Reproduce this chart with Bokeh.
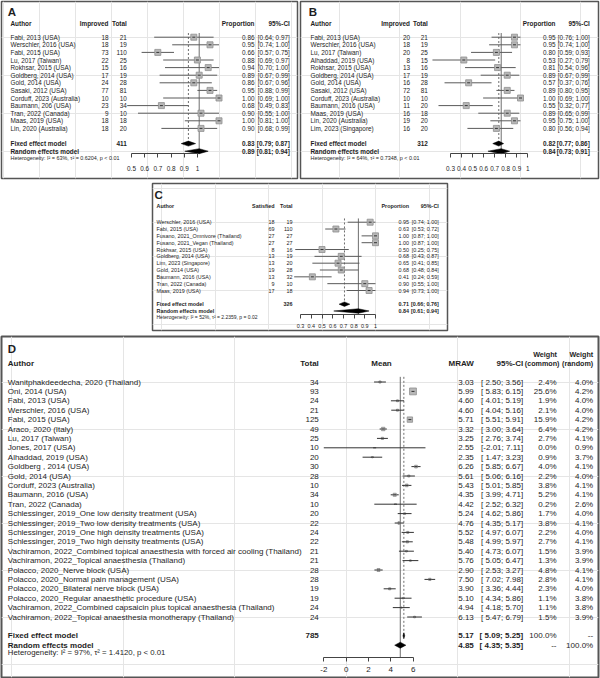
import math
from bokeh.plotting import figure
from bokeh.models import Range1d, LinearAxis, FixedTicker, Spacer, NumeralTickFormatter
from bokeh.layouts import column, row
from bokeh.core.properties import value
from bokeh.embed import file_html
from bokeh.resources import INLINE

# ===================== DATA =====================
# Panel A
a_study = ["Fabi, 2013 (USA)", "Werschler, 2016 (USA)", "Fabi, 2015 (USA)", "Lu, 2017 (Taiwan)",
           "Rokhsar, 2015 (USA)", "Goldberg, 2014 (USA)", "Gold, 2014 (USA)", "Sasaki, 2012 (USA)",
           "Corduff, 2023 (Australia)", "Baumann,  206 (USA)", "Tran, 2022 (Canada)", "Maas, 2019 (USA)",
           "Lin, 2020 (Australia)"]
a_events = [18, 18, 73, 22, 15, 17, 24, 77, 10, 23, 9, 18, 18]
a_total = [21, 19, 110, 25, 16, 19, 28, 81, 10, 34, 10, 18, 20]
a_prop = [0.86, 0.95, 0.66, 0.88, 0.94, 0.89, 0.86, 0.95, 1.00, 0.68, 0.90, 1.00, 0.90]
a_lo = [0.64, 0.74, 0.57, 0.69, 0.70, 0.67, 0.67, 0.88, 0.69, 0.49, 0.55, 0.81, 0.68]
a_hi = [0.97, 1.00, 0.75, 0.97, 1.00, 0.99, 0.96, 0.99, 1.00, 0.83, 1.00, 1.00, 0.99]
a_fixed = [0.83, 0.79, 0.87]
a_random = [0.89, 0.81, 0.94]
a_n = 411
a_het = "Heterogeneity: I² = 63%, τ² = 0.6204, p < 0.01"
a_ticks = [0.5, 0.6, 0.7, 0.8, 0.9, 1.0]

# Panel B
b_study = ["Fabi, 2013 (USA)", "Werschler, 2016 (USA)", "Lu, 2017 (Taiwan)", "Alhaddad, 2019 (USA)",
           "Rokhsar, 2015 (USA)", "Goldberg, 2014 (USA)", "Gold, 2014 (USA)", "Sasaki, 2012 (USA)",
           "Corduff, 2023 (Australia)", "Baumann, 2016 (USA)", "Maas, 2019 (USA)", "Lin, 2020 (Australia)",
           "Lim, 2023 (Singapore)"]
b_events = [20, 18, 20, 8, 13, 17, 16, 72, 10, 11, 16, 19, 16]
b_total = [21, 19, 25, 15, 16, 19, 28, 81, 10, 20, 18, 20, 20]
b_prop = [0.95, 0.95, 0.80, 0.53, 0.81, 0.89, 0.57, 0.89, 1.00, 0.55, 0.89, 0.95, 0.80]
b_lo = [0.76, 0.74, 0.59, 0.27, 0.54, 0.67, 0.37, 0.80, 0.69, 0.32, 0.65, 0.75, 0.56]
b_hi = [1.00, 1.00, 0.93, 0.79, 0.96, 0.99, 0.76, 0.95, 1.00, 0.77, 0.99, 1.00, 0.94]
b_fixed = [0.82, 0.77, 0.86]
b_random = [0.84, 0.73, 0.91]
b_n = 312
b_het = "Heterogeneity: I² = 64%, τ² = 0.7348, p < 0.01"
b_ticks = [0.3, 0.4, 0.5, 0.6, 0.7, 0.8, 0.9, 1.0]

# Panel C
c_study = ["Werschler, 2016 (USA)", "Fabi, 2015 (USA)", "Fusano, 2021_Omnivore (Thailand)",
           "Fusano, 2021_Vegan (Thailand)", "Rokhsar, 2015 (USA)", "Goldberg, 2014 (USA)",
           "Lim, 2023 (Singapore)", "Gold, 2014 (USA)", "Baumann, 2016 (USA)", "Tran, 2022 (Canada)",
           "Maas, 2019 (USA)"]
c_events = [18, 69, 27, 27, 8, 13, 13, 19, 13, 9, 17]
c_total = [19, 110, 27, 27, 16, 19, 20, 28, 32, 10, 18]
c_prop = [0.95, 0.63, 1.00, 1.00, 0.50, 0.68, 0.65, 0.68, 0.41, 0.90, 0.94]
c_lo = [0.74, 0.53, 0.87, 0.87, 0.25, 0.43, 0.41, 0.48, 0.24, 0.55, 0.73]
c_hi = [1.00, 0.72, 1.00, 1.00, 0.75, 0.87, 0.85, 0.84, 0.59, 1.00, 1.00]
c_fixed = [0.71, 0.66, 0.76]
c_random = [0.84, 0.61, 0.94]
c_n = 326
c_het = "Heterogeneity: I² = 52%, τ² = 2.2359, p = 0.02"
c_ticks = [0.3, 0.4, 0.5, 0.6, 0.7, 0.8, 0.9, 1.0]

# Panel D
d_study = ["Wanitphakdeedecha, 2020 (Thailand)", "Oni, 2014 (USA)", "Fabi, 2013 (USA)",
           "Werschler, 2016 (USA)", "Fabi, 2015 (USA)", "Araco, 2020 (Italy)", "Lu, 2017 (Taiwan)",
           "Jones, 2017 (USA)", "Alhaddad, 2019 (USA)", "Goldberg , 2014 (USA)", "Gold, 2014 (USA)",
           "Corduff, 2023 (Australia)", "Baumann, 2016 (USA)", "Tran, 2022 (Canada)",
           "Schlessinger, 2019_One low density treatment (USA)",
           "Schlessinger, 2019_Two low density treatments (USA)",
           "Schlessinger, 2019_One high density treatments (USA)",
           "Schlessinger, 2019_Two high density treatments (USA)",
           "Vachiramon, 2022_Combined topical anaesthesia with forced air cooling (Thailand)",
           "Vachiramon, 2022_Topical anaesthesia (Thailand)",
           "Polacco, 2020_Nerve block (USA)", "Polacco, 2020_Normal pain management (USA)",
           "Polacco, 2020_Bilateral nerve block (USA)", "Polacco, 2020_Regular anaesthetic procedure (USA)",
           "Vachiramon, 2022_Combined capsaicin plus topical anaesthesia (Thailand)",
           "Vachiramon, 2022_Topical anaesthesia  monotherapy (Thailand)"]
d_total = [34, 93, 24, 21, 125, 49, 25, 10, 20, 30, 28, 10, 34, 10, 20, 22, 24, 22, 21, 21, 28, 28, 19, 19, 24, 24]
d_mean = [3.03, 5.99, 4.60, 4.60, 5.71, 3.32, 3.25, 2.55, 2.35, 6.26, 5.61, 5.43, 4.35, 4.42, 5.24, 4.76,
          5.52, 5.48, 5.40, 5.76, 2.90, 7.50, 3.90, 5.10, 4.94, 6.13]
d_lo = [2.50, 5.83, 4.01, 4.04, 5.51, 3.00, 2.76, -2.01, 1.47, 5.85, 5.06, 5.01, 3.99, 2.52, 4.62, 4.35,
        4.97, 4.99, 4.73, 5.05, 2.53, 7.02, 3.36, 4.34, 4.18, 5.47]
d_hi = [3.56, 6.15, 5.19, 5.16, 5.91, 3.64, 3.74, 7.11, 3.23, 6.67, 6.16, 5.85, 4.71, 6.32, 5.86, 5.17,
        6.07, 5.97, 6.07, 6.47, 3.27, 7.98, 4.44, 5.86, 5.70, 6.79]
d_wc = [2.4, 25.6, 1.9, 2.1, 15.9, 6.4, 2.7, 0.0, 0.9, 4.0, 2.2, 3.8, 5.2, 0.2, 1.7, 3.8, 2.2, 2.7, 1.5,
        1.3, 4.8, 2.8, 2.3, 1.1, 1.1, 1.5]
d_wr = [4.0, 4.2, 4.0, 4.0, 4.2, 4.2, 4.1, 0.9, 3.7, 4.1, 4.0, 4.1, 4.1, 2.6, 4.0, 4.1, 4.0, 4.1, 3.9,
        3.9, 4.1, 4.1, 4.0, 3.8, 3.8, 3.9]
d_fixed = [5.17, 5.09, 5.25]
d_random = [4.85, 4.35, 5.35]
d_n = 785
d_het = "Heterogeneity: I² = 97%, τ² = 1.4120, p < 0.01"
d_ticks = [-2, 0, 2, 4, 6]

# ===================== STYLE / GEOMETRY =====================
# Bokeh's standalone page template sets body margin to 0, so the layout fills 600 x 678.
SX = 1.0
SY = 1.0
FONT = "Liberation Sans"
INK = "#1e1e1e"
LINE = "#6e6e6e"
FRAME = "#555555"


def fs(px):
    return f"{px * SX:.2f}px"


def base_fig(fig_box, box, row0, dy, vmap, amap, border_w):
    fx0, fy0, fx1, fy1 = fig_box
    bx0, by0, bx1, by1 = box
    v0, p0, k = vmap
    a0, ap, ak = amap
    p = figure(width=round((fx1 - fx0) * SX), height=round((fy1 - fy0) * SY), title=None,
               x_range=Range1d(v0 + (bx0 - p0) / k, v0 + (bx1 - p0) / k),
               y_range=Range1d((by1 - row0) / dy, (by0 - row0) / dy),
               x_axis_location=None, y_axis_location=None, toolbar_location=None,
               output_backend="svg",
               min_border_left=round((bx0 - fx0) * SX), min_border_right=round((fx1 - bx1) * SX),
               min_border_top=round((by0 - fy0) * SY), min_border_bottom=round((fy1 - by1) * SY))
    p.extra_x_ranges = {"px": Range1d(bx0, bx1),
                        "ax": Range1d(a0 + (bx0 - ap) / ak, a0 + (bx1 - ap) / ak)}
    p.extra_y_ranges = {"py": Range1d(by1, by0)}
    p.outline_line_color = FRAME
    p.outline_line_width = border_w
    p.background_fill_color = "white"
    p.border_fill_color = "white"
    return p


def texts(p, xs, ys, labels, size, align="left", bold=False, yname="default"):
    p.text(x=list(xs), y=list(ys), text=list(labels), x_range_name="px", y_range_name=yname,
           text_align=value(align), text_baseline=value("middle"), text_font=value(FONT),
           text_font_size=value(fs(size)), text_font_style=value("bold" if bold else "normal"),
           text_color=INK)


def add_axis(p, ticks, axis_y, size, standoff):
    ax = LinearAxis(x_range_name="ax", y_range_name="py", fixed_location=axis_y,
                    bounds=(ticks[0], ticks[-1]), ticker=FixedTicker(ticks=ticks),
                    formatter=NumeralTickFormatter(format="0.[0]"))
    ax.major_label_text_font = FONT
    ax.major_label_text_font_size = fs(size)
    ax.major_label_text_color = INK
    ax.axis_line_color = "#444444"
    ax.major_tick_line_color = "#444444"
    ax.major_tick_in = 0
    ax.major_tick_out = 4
    ax.minor_tick_in = 0
    ax.minor_tick_out = 0
    ax.major_label_standoff = standoff
    p.add_layout(ax, "below")


def marks(p, est, lo, hi, fixed, rand, n, axis_row, sizes, ci_color, h):
    rows = list(range(n))
    fixed_row, rand_row = n + 1, n + 2
    top_row = -0.55
    p.segment(x0=[fixed[0]], y0=[top_row], x1=[fixed[0]], y1=[fixed_row],
              line_color=LINE, line_width=1, line_dash="2 2")
    p.segment(x0=[rand[0]], y0=[top_row], x1=[rand[0]], y1=[axis_row],
              line_color=LINE, line_width=1)
    p.segment(x0=lo, y0=rows, x1=hi, y1=rows, line_color=ci_color, line_width=1)
    p.scatter(x=est, y=rows, size=sizes, marker="square", fill_color="#b8b8b8",
              line_color="#8e8e8e", line_width=0.8)
    p.scatter(x=est, y=rows, size=3, marker="dash", line_color="#333333", line_width=1)
    for (e, l, u), r in ((fixed, fixed_row), (rand, rand_row)):
        p.patch(x=[l, e, u, e], y=[r, r - h, r, r + h], fill_color="black", line_color="black",
                line_width=0.5)


def prop_panel(letter, fig_box, box, row0, dy, vmap, amap, geo, cols, heads,
               study, ev, tot, prop, lo, hi, fixed, rand, ntot, het, ticks, fsz, hetsz, standoff):
    header_y, let_x, let_y, het_y, axis_y = geo
    author_x, ev_r, tot_r, prop_r, ci_r = cols
    p = base_fig(fig_box, box, row0, dy, vmap, amap, 1.5)
    n = len(study)
    axis_row = (axis_y - row0) / dy
    marks(p, prop, lo, hi, fixed, rand, n, axis_row, [6 * SX] * n, "#5a5a5a", 0.33)
    add_axis(p, ticks, axis_y, fsz, standoff)
    rows = list(range(n))
    texts(p, [let_x], [let_y], [letter], 11.5, bold=True, yname="py")
    texts(p, [author_x], [header_y], ["Author"], fsz, bold=True, yname="py")
    texts(p, [ev_r, tot_r], [header_y] * 2, heads, fsz, align="right", bold=True, yname="py")
    texts(p, [prop_r, ci_r], [header_y] * 2, ["Proportion", "95%-CI"], fsz, align="right",
          bold=True, yname="py")
    texts(p, [author_x] * n, rows, study, fsz)
    texts(p, [ev_r] * n, rows, [str(v) for v in ev], fsz, align="right")
    texts(p, [tot_r] * n, rows, [str(v) for v in tot], fsz, align="right")
    texts(p, [prop_r] * n, rows, [f"{v:.2f}" for v in prop], fsz, align="right")
    texts(p, [ci_r] * n, rows, [f"[{l:.2f}; {u:.2f}]" for l, u in zip(lo, hi)], fsz, align="right")
    texts(p, [author_x, author_x], [n + 1, n + 2], ["Fixed effect model", "Random effects model"],
          fsz, bold=True)
    texts(p, [tot_r], [n + 1], [str(ntot)], fsz, align="right", bold=True)
    texts(p, [prop_r, prop_r], [n + 1, n + 2], [f"{fixed[0]:.2f}", f"{rand[0]:.2f}"], fsz,
          align="right", bold=True)
    texts(p, [ci_r, ci_r], [n + 1, n + 2],
          [f"[{fixed[1]:.2f}; {fixed[2]:.2f}]", f"[{rand[1]:.2f}; {rand[2]:.2f}]"], fsz,
          align="right", bold=True)
    texts(p, [author_x], [het_y], [het], hetsz, yname="py")
    return p


pa = prop_panel("A", (0, 0, 299, 181), (1, 1, 297, 178), 36.7, 7.6,
                (1.0, 218.5, 180.0), (1.0, 197.0, 132.0),
                (22.7, 7.3, 11.7, 157.3, 153.3), (10, 108, 126.3, 254, 289.3),
                ["Improved", "Total"], a_study, a_events, a_total, a_prop, a_lo, a_hi,
                a_fixed, a_random, a_n, a_het, a_ticks, 6.4, 5.4, 8)

pb = prop_panel("B", (299, 0, 600, 181), (300, 1, 598, 178), 36.7, 7.6,
                (1.0, 520.0, 120.6), (1.0, 527.3, 110.4),
                (22.7, 308.3, 11.7, 157.3, 153.3), (310, 409.5, 427.3, 555, 589.3),
                ["Improved", "Total"], b_study, b_events, b_total, b_prop, b_lo, b_hi,
                b_fixed, b_random, b_n, b_het, b_ticks, 6.4, 5.4, 8)

pc = prop_panel("C", (149, 181, 451, 334), (152, 183, 447, 330), 221.7, 6.83,
                (1.0, 375.0, 107.0), (1.0, 375.0, 107.0),
                (205.3, 154, 194, 316, 314), (156, 274, 292, 408.5, 438.3),
                ["Satisfied", "Total"], c_study, c_events, c_total, c_prop, c_lo, c_hi,
                c_fixed, c_random, c_n, c_het, c_ticks, 5.4, 5.0, 5)

# ----- Panel D -----
D_ROW0, D_DY = 381.5, 9.4
pd_ = base_fig((0, 334, 600, 678), (1, 336, 598, 677), D_ROW0, D_DY,
               (0.0, 345.7, 11.15), (0.0, 345.7, 11.15), 2)
nd = len(d_study)
d_axis_y = 657.0
marks(pd_, d_mean, d_lo, d_hi, d_fixed, d_random, nd, (d_axis_y - D_ROW0) / D_DY,
      [1.35 * math.sqrt(w) * SX for w in d_wc], "#333333", 0.32)
add_axis(pd_, d_ticks, d_axis_y, 8.0, 5)
rows = list(range(nd))
FD = 8.0
FW = 7.2
hy, wy = 362.5, 353.5
texts(pd_, [7.3], [348.3], ["D"], 11.5, bold=True, yname="py")
texts(pd_, [7.3], [hy], ["Author"], FD, bold=True, yname="py")
texts(pd_, [318.3, 473.3, 522.7], [hy] * 3, ["Total", "MRAW", "95%-CI"], FD, align="right",
      bold=True, yname="py")
texts(pd_, [381], [hy], ["Mean"], FD, align="center", bold=True, yname="py")
texts(pd_, [559, 592.7], [hy] * 2, ["(common)", "(random)"], FW, align="right", bold=True, yname="py")
texts(pd_, [556.5, 592.7], [wy] * 2, ["Weight", "Weight"], FW, align="right", bold=True, yname="py")
texts(pd_, [7.3] * nd, rows, d_study, FD)
texts(pd_, [318.3] * nd, rows, [str(v) for v in d_total], FD, align="right")
texts(pd_, [473.3] * nd, rows, [f"{v:.2f}" for v in d_mean], FD, align="right")
texts(pd_, [522.7] * nd, rows, [f"[{l:5.2f}; {u:.2f}]" for l, u in zip(d_lo, d_hi)], FD, align="right")
texts(pd_, [556] * nd, rows, [f"{w:.1f}%" for w in d_wc], FD, align="right")
texts(pd_, [592.7] * nd, rows, [f"{w:.1f}%" for w in d_wr], FD, align="right")
texts(pd_, [7.3, 7.3], [nd + 1, nd + 2], ["Fixed effect model", "Random effects model"], FD, bold=True)
texts(pd_, [318.3], [nd + 1], [str(d_n)], FD, align="right", bold=True)
texts(pd_, [473.3, 473.3], [nd + 1, nd + 2], [f"{d_fixed[0]:.2f}", f"{d_random[0]:.2f}"], FD,
      align="right", bold=True)
texts(pd_, [522.7, 522.7], [nd + 1, nd + 2],
      [f"[{d_fixed[1]:5.2f}; {d_fixed[2]:.2f}]", f"[{d_random[1]:5.2f}; {d_random[2]:.2f}]"], FD,
      align="right", bold=True)
texts(pd_, [556, 592.7], [nd + 1] * 2, ["100.0%", "--"], FD, align="right")
texts(pd_, [556, 592.7], [nd + 2] * 2, ["--", "100.0%"], FD, align="right")
texts(pd_, [7.3], [651.5], [d_het], 7.8, yname="py")

layout = column(row(pa, pb),
                row(Spacer(width=round(149 * SX), height=round(153 * SY)), pc),
                pd_)

open("out.html", "w").write(file_html(layout, INLINE))
